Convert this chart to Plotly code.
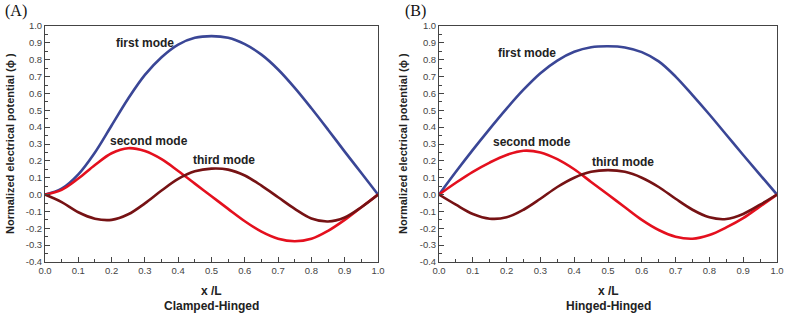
import plotly.graph_objects as go

x_pos = [0.0, 0.05, 0.1, 0.15, 0.2, 0.25, 0.3, 0.35, 0.4, 0.45, 0.5,
         0.55, 0.6, 0.65, 0.7, 0.75, 0.8, 0.85, 0.9, 0.95, 1.0]

# Panel A: Clamped-Hinged
a_first = [0.0, 0.035, 0.12, 0.25, 0.41, 0.57, 0.71, 0.815, 0.89, 0.93, 0.94,
           0.93, 0.892, 0.83, 0.742, 0.633, 0.512, 0.385, 0.255, 0.128, 0.0]
a_second = [0.0, 0.028, 0.095, 0.175, 0.245, 0.275, 0.258, 0.21, 0.14, 0.065, -0.01,
            -0.085, -0.158, -0.22, -0.262, -0.277, -0.262, -0.215, -0.15, -0.075, 0.0]
a_third = [0.0, -0.045, -0.105, -0.143, -0.15, -0.117, -0.052, 0.024, 0.093, 0.138, 0.154,
           0.148, 0.113, 0.053, -0.016, -0.085, -0.142, -0.16, -0.136, -0.075, 0.0]

# Panel B: Hinged-Hinged
b_first = [0.0, 0.135, 0.265, 0.39, 0.51, 0.622, 0.72, 0.795, 0.847, 0.874, 0.88,
           0.873, 0.845, 0.79, 0.70, 0.59, 0.475, 0.355, 0.235, 0.117, 0.0]
b_second = [0.0, 0.07, 0.135, 0.19, 0.235, 0.26, 0.25, 0.21, 0.15, 0.075, 0.0,
            -0.075, -0.15, -0.21, -0.25, -0.262, -0.24, -0.195, -0.14, -0.07, 0.0]
b_third = [0.0, -0.06, -0.115, -0.143, -0.135, -0.09, -0.025, 0.045, 0.10, 0.135, 0.145,
           0.135, 0.10, 0.045, -0.025, -0.09, -0.135, -0.145, -0.115, -0.06, 0.0]

mode_labels = ["first mode", "second mode", "third mode"]
a_label_pos = [(0.30, 0.90), (0.312, 0.32), (0.539, 0.205)]
b_label_pos = [(0.26, 0.838), (0.275, 0.312), (0.543, 0.195)]

y_ticks = [-0.4, -0.3, -0.2, -0.1, 0.0, 0.1, 0.2, 0.3, 0.4, 0.5, 0.6, 0.7, 0.8, 0.9, 1.0]
x_ticks = [0.0, 0.1, 0.2, 0.3, 0.4, 0.5, 0.6, 0.7, 0.8, 0.9, 1.0]

colors = ["rgb(58,70,150)", "rgb(228,16,30)", "rgb(118,18,20)"]

fig = go.Figure()

for series, xa, ya in [((a_first, a_second, a_third), "x", "y"),
                       ((b_first, b_second, b_third), "x2", "y2")]:
    for vals, col in zip(series, colors):
        fig.add_trace(go.Scatter(x=x_pos, y=vals, mode="lines", xaxis=xa, yaxis=ya,
                                 line=dict(color=col, width=2.6, shape="spline", smoothing=1.0),
                                 showlegend=False, hoverinfo="skip"))

W, H = 787, 315
ax_common = dict(showline=True, linecolor="#444", linewidth=1, mirror=True,
                 ticks="inside", ticklen=5, tickwidth=1, tickcolor="#444",
                 showgrid=False, zeroline=False, automargin=False,
                 tickfont=dict(family="Liberation Sans, Arial", size=9.5, color="#444"),
                 minor=dict(ticks="inside", ticklen=3, tickwidth=1, tickcolor="#444", showgrid=False))

y_dom = [1 - 262 / H, 1 - 26 / H]
fig.update_layout(
    template="none",
    width=W, height=H, margin=dict(l=0, r=0, t=0, b=0, pad=0),
    paper_bgcolor="white", plot_bgcolor="white",
    xaxis=dict(domain=[45 / W, 378 / W], range=[0, 1], tickvals=x_ticks,
               ticktext=[f"{v:.1f}" for v in x_ticks], anchor="y",
               minor_dtick=0.05, minor_tick0=0, **ax_common),
    yaxis=dict(domain=y_dom, range=[-0.4, 1.0], tickvals=y_ticks,
               ticktext=[f"{v:.1f}" for v in y_ticks], anchor="x",
               minor_dtick=0.05, minor_tick0=0, **ax_common),
    xaxis2=dict(domain=[439 / W, 777 / W], range=[0, 1], tickvals=x_ticks,
                ticktext=[f"{v:.1f}" for v in x_ticks], anchor="y2",
                minor_dtick=0.05, minor_tick0=0, **ax_common),
    yaxis2=dict(domain=y_dom, range=[-0.4, 1.0], tickvals=y_ticks,
                ticktext=[f"{v:.1f}" for v in y_ticks], anchor="x2",
                minor_dtick=0.05, minor_tick0=0, **ax_common),
)

bold = dict(family="Liberation Sans, Arial", size=12, color="#222")
bold_y = dict(family="Liberation Sans, Arial", size=11, color="#222")
ann = []
for (lx, ly), txt in zip(a_label_pos, mode_labels):
    ann.append(dict(x=lx, y=ly, xref="x", yref="y", text=f"<b>{txt}</b>", showarrow=False, font=bold))
for (lx, ly), txt in zip(b_label_pos, mode_labels):
    ann.append(dict(x=lx, y=ly, xref="x2", yref="y2", text=f"<b>{txt}</b>", showarrow=False, font=bold))

ytitle = "<b>Normalized electrical potential (\u03d5 )</b>"
for px_center, sub in [(211.5, "Clamped-Hinged"), (608, "Hinged-Hinged")]:
    ann.append(dict(x=px_center / W, y=1 - 291 / H, xref="paper", yref="paper", text="<b>x /L</b>",
                    showarrow=False, font=bold, xanchor="center", yanchor="middle"))
    ann.append(dict(x=px_center / W, y=1 - 306 / H, xref="paper", yref="paper", text=f"<b>{sub}</b>",
                    showarrow=False, font=bold, xanchor="center", yanchor="middle"))
for px_x in [10, 403]:
    ann.append(dict(x=px_x / W, y=1 - 144 / H, xref="paper", yref="paper", text=ytitle,
                    showarrow=False, font=bold_y, textangle=-90, xanchor="center", yanchor="middle"))
for px_x, lab in [(16, "(A)"), (415, "(B)")]:
    ann.append(dict(x=px_x / W, y=1 - 11 / H, xref="paper", yref="paper", text=lab,
                    showarrow=False, font=dict(family="Liberation Serif, Times New Roman", size=16, color="#111"),
                    xanchor="center", yanchor="middle"))
fig.update_layout(annotations=ann)

fig.write_html("out.html", config={"displayModeBar": False, "staticPlot": True},
               post_script="document.body.style.margin='0';document.body.style.padding='0';document.body.style.overflow='hidden';")
